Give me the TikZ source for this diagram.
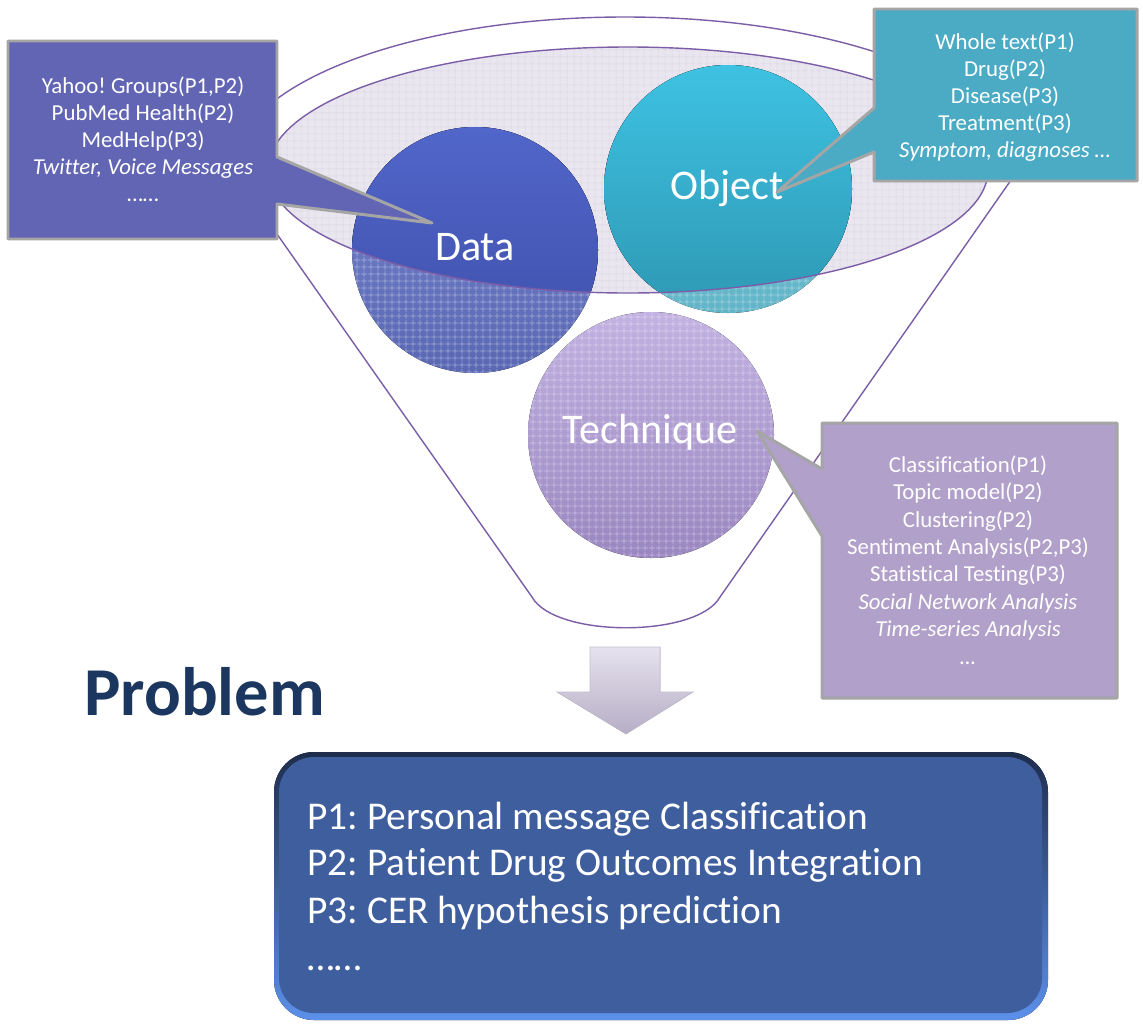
\documentclass[tikz,border=0pt]{standalone}
\usepackage{fontspec}
\setmainfont{Carlito}[Ligatures=NoCommon]
\frenchspacing
\usetikzlibrary{patterns.meta}
\definecolor{funnelc}{HTML}{7B5EA7}
\definecolor{ellfill}{HTML}{E9E6EF}
\definecolor{ellgrid}{HTML}{D2CCDD}
\definecolor{datasolidT}{HTML}{5166CA}
\definecolor{datasolidB}{HTML}{3E4EA8}
\definecolor{datatexT}{HTML}{7886CE}
\definecolor{datatexB}{HTML}{5A68B4}
\definecolor{objsolidT}{HTML}{3EC2E2}
\definecolor{objsolidB}{HTML}{2E98B4}
\definecolor{objtexT}{HTML}{86D0E0}
\definecolor{objtexB}{HTML}{62B4C8}
\definecolor{techT}{HTML}{C2B2E2}
\definecolor{techB}{HTML}{9A86C0}
\definecolor{calldata}{HTML}{6165B3}
\definecolor{callobj}{HTML}{4BABC5}
\definecolor{calltech}{HTML}{B1A0C9}
\definecolor{callborder}{HTML}{A5A5A5}
\definecolor{probtext}{HTML}{1B365F}
\definecolor{boxfill}{HTML}{3F5E9D}
\definecolor{boxrimT}{HTML}{1E2D4C}
\definecolor{boxrimB}{HTML}{5C90EA}
\definecolor{arrowT}{HTML}{E6E2EE}
\definecolor{arrowB}{HTML}{B6AEC6}
\tikzset{
  funnelline/.style={draw=funnelc, line width=0.8pt},
  calloutshape/.style={draw=callborder, line width=1.7pt, line join=round},
  calltext/.style={text=white, align=center, font=\fontsize{13}{15.4}\selectfont},
  circlabel/.style={text=white, font=\fontsize{24}{28}\selectfont},
  texgrid/.style={pattern={Hatch[distance=4pt,line width=0.5pt]}, pattern color=white, fill opacity=0.4},
  boxtext/.style={text=white, anchor=base west, inner sep=0pt, font=\fontsize{22.4}{26}\selectfont},
}
\begin{document}
\begin{tikzpicture}[x=0.02cm,y=-0.02cm]
\useasboundingbox (0,0) rectangle (1143,1025);
\fill[white] (0,0) rectangle (1143,1025);

% funnel outline
\draw[funnelline] (232,170) arc[start angle=180, end angle=360, x radius=393, y radius=153]
  -- (720,597) .. controls (697,638) and (555,638) .. (532,597) -- cycle;

% inner ellipse
\fill[ellfill] (628,170) ellipse[x radius=360, y radius=123];
\fill[pattern={Hatch[distance=4pt,line width=0.4pt]}, pattern color=ellgrid, fill opacity=0.6]
  (628,170) ellipse[x radius=360, y radius=123];

% Data circle
\fill[top color=datatexT, bottom color=datatexB] (475,250) circle[radius=123];
\fill[texgrid] (475,250) circle[radius=123];
\begin{scope}
  \clip (628,170) ellipse[x radius=360, y radius=123];
  \fill[top color=datasolidT, bottom color=datasolidB] (475,250) circle[radius=123];
\end{scope}

% Object circle
\fill[top color=objtexT, bottom color=objtexB] (728,189) circle[radius=124];
\fill[texgrid] (728,189) circle[radius=124];
\begin{scope}
  \clip (628,170) ellipse[x radius=360, y radius=123];
  \fill[top color=objsolidT, bottom color=objsolidB] (728,189) circle[radius=124];
\end{scope}

% Technique circle
\fill[top color=techT, bottom color=techB] (651,435) circle[radius=123];
\fill[texgrid] (651,435) circle[radius=123];

% inner ellipse outline
\draw[funnelline] (628,170) ellipse[x radius=360, y radius=123];

% circle labels
\node[circlabel] (data) at (475,247) {Data};
\node[circlabel] (object) at (727,188) {Object};
\node[circlabel] (technique) at (650,432) {Technique};

% callout tips
\coordinate (tipdata) at (432,223);
\coordinate (tipobj) at (777,192);
\coordinate (tiptech) at (757,431);

% Data callout
\filldraw[calloutshape, fill=calldata] (8,41) -- (277,41) -- (277,157) -- (tipdata) -- (277,204) -- (277,239) -- (8,239) -- cycle;
\node[calltext] (datatext) at (143,139) {Yahoo! Groups(P1,P2)\\PubMed Health(P2)\\MedHelp(P3)\\\textit{Twitter, Voice Messages}\\……};

% Object callout
\filldraw[calloutshape, fill=callobj] (874,9) -- (1137,9) -- (1137,181) -- (874,181) -- (874,152) -- (tipobj) -- (874,108) -- cycle;
\node[calltext] (objtext) at (1005,97) {Whole text(P1)\\Drug(P2)\\Disease(P3)\\Treatment(P3)\\\textit{Symptom, diagnoses …}};

% Technique callout
\filldraw[calloutshape, fill=calltech] (822,423) -- (1117,423) -- (1117,698) -- (822,698) -- (822,536) -- (tiptech) -- (822,469) -- cycle;
\node[calltext, font=\fontsize{13}{15.6}\selectfont] (techtext) at (968,560) {Classification(P1)\\Topic model(P2)\\Clustering(P2)\\Sentiment Analysis(P2,P3)\\Statistical Testing(P3)\\\textit{Social Network Analysis}\\\textit{Time-series Analysis}\\\textit{…}};

% down arrow
\fill[top color=arrowT, bottom color=arrowB, draw=arrowB!80!white, line width=0.3pt]
  (590,647) -- (660,647) -- (660,692) -- (693,692) -- (626,734) -- (557,692) -- (590,692) -- cycle;

% Problem title
\node[anchor=base west, inner sep=0pt, text=probtext, font=\fontsize{39}{45}\selectfont\bfseries] (problem) at (84,715) {Problem};

% bottom box
\fill[top color=boxrimT, bottom color=boxrimB, rounded corners=0.8cm] (274,752) rectangle (1048,1020);
\fill[boxfill, rounded corners=0.7cm] (279,757) rectangle (1042,1013);
\node[boxtext] (p1) at (307,829) {P1: Personal message Classification};
\node[boxtext] (p2) at (307,875) {P2: Patient Drug Outcomes Integration};
\node[boxtext] (p3) at (307,923) {P3: CER hypothesis prediction};
\node[boxtext] (pdots) at (307,970) {……};
\end{tikzpicture}
\end{document}
